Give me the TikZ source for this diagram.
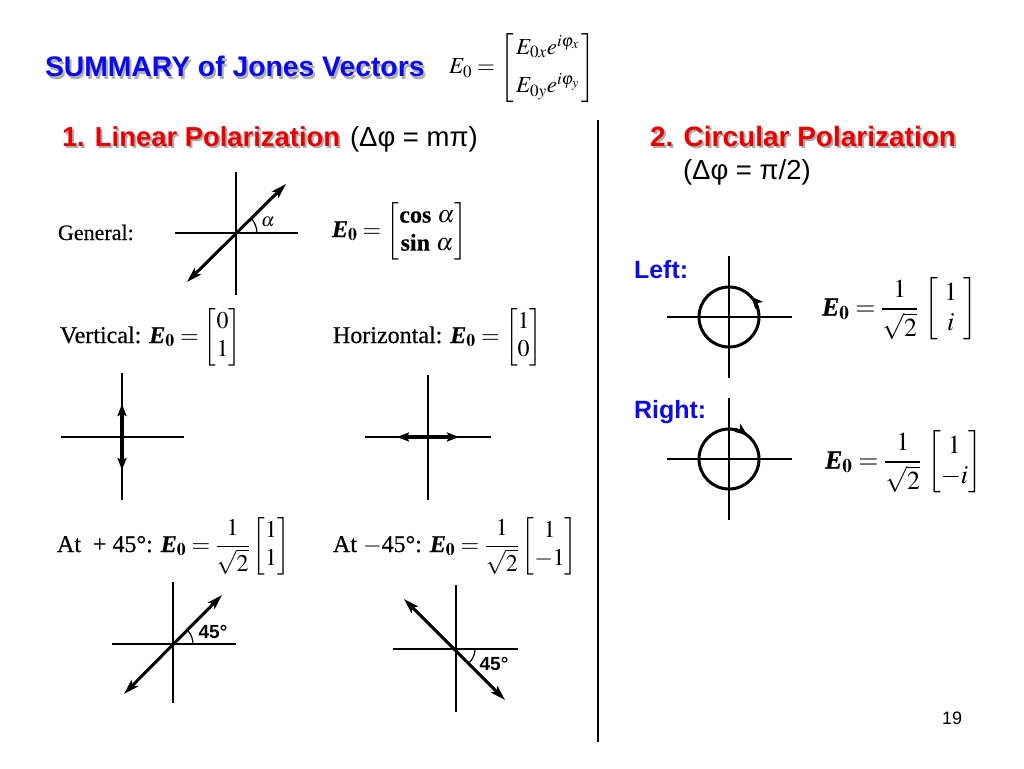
\documentclass[tikz,border=0pt]{standalone}
\usepackage{amsmath}
\usepackage{mathptmx}
\usepackage{fontspec}
\setmainfont{Liberation Serif}
\setsansfont{Liberation Sans}
\newfontfamily\scanfont{Liberation Serif}[FakeBold=0.5]
\usetikzlibrary{arrows.meta}
\definecolor{tblue}{RGB}{10,10,235}
\definecolor{tred}{RGB}{235,0,0}
\definecolor{shad}{RGB}{175,175,175}
\newcommand{\Ezero}{\text{\bfseries\itshape E}_{\mathbf{0}}}
\newcommand{\shd}[1]{\rlap{\hspace{2pt}\raisebox{-2pt}{\color{shad}#1}}#1}
\begin{document}
\begin{tikzpicture}[x=1pt,y=-1pt,
  txt/.style={inner sep=0pt, outer sep=0pt},
  ttl/.style={txt, font=\sffamily\bfseries\fontsize{28.3}{32}\selectfont},
  hd/.style={txt, font=\sffamily\bfseries\fontsize{28}{32}\selectfont},
  subt/.style={txt, font=\sffamily\fontsize{27.5}{32}\selectfont},
  tb/.style={txt, font=\scanfont\fontsize{22}{26}\selectfont},
  tbl/.style={txt, font=\scanfont\fontsize{24}{28}\selectfont},
  tbr/.style={txt, font=\scanfont\fontsize{26}{30}\selectfont},
  side/.style={txt, font=\sffamily\bfseries\fontsize{25}{30}\selectfont, text=tblue},
  axis/.style={line width=2.3pt},
  vec/.style={line width=3pt, {Stealth[length=15pt,width=9pt,inset=3pt]}-{Stealth[length=15pt,width=9pt,inset=3pt]}},
  vecs/.style={line width=3.8pt, {Stealth[length=12pt,width=9pt,inset=2pt]}-{Stealth[length=12pt,width=9pt,inset=2pt]}},
  ring/.style={line width=3pt},
  ang/.style={line width=1.2pt},
  lab/.style={txt, font=\sffamily\bfseries\fontsize{19}{21}\selectfont},
]
\fill[white] (0,0) rectangle (1024,768);
\useasboundingbox (0,0) rectangle (1024,768);

% title
\node[ttl, text=tblue, anchor=base west] (title) at (45,77) {\shd{SUMMARY of Jones Vectors}};
\node[txt, font=\fontsize{23}{27}\selectfont, anchor=west] (jones) at (449,68)
  {$E_0 = \left[\begin{array}{@{\,}c@{\,}} E_{0x}e^{i\varphi_x}\\[11pt] E_{0y}e^{i\varphi_y}\end{array}\right]$};

% headings
\node[hd, text=tred, anchor=base west, font=\sffamily\bfseries\fontsize{27.4}{32}\selectfont] (h1) at (62,146) {\shd{1. Linear Polarization}};
\node[subt, anchor=base west] (h1b) at (350,146) {(Δφ = mπ)};
\node[hd, text=tred, anchor=base west] (h2) at (650,146) {\shd{2. Circular Polarization}};
\node[subt, anchor=base west] (h2b) at (683,179) {(Δφ = π/2)};

% separator
\coordinate (septop) at (598,120);
\coordinate (sepbot) at (598,742);
\draw[line width=1.3pt] (septop) -- (sepbot);

% general
\node[tb, anchor=base west] (gen) at (58,240) {General:};
\draw[axis] (236,172) -- (236,295);
\draw[axis] (175,233) -- (298,233);
\draw[vec] (187,282) -- (286,184);
\draw[ang] (257,233) arc[start angle=0,end angle=-45,radius=21];
\node[txt, font=\fontsize{19}{21}\selectfont] (alpha) at (268,222) {$\boldsymbol{\alpha}$};
\node[tbl, anchor=west] (genm) at (332,231) {$\Ezero = \begin{bmatrix}\text{\bfseries cos}\ \boldsymbol{\alpha}\\ \text{\bfseries sin}\ \boldsymbol{\alpha}\end{bmatrix}$};

% vertical / horizontal
\node[tbl, anchor=west] (vert) at (60,337) {Vertical: $\Ezero = \begin{bmatrix}0\\1\end{bmatrix}$};
\node[tbl, anchor=west] (horz) at (333,337) {Horizontal: $\Ezero = \begin{bmatrix}1\\0\end{bmatrix}$};

\draw[axis] (122,373) -- (122,500);
\draw[axis] (61,437) -- (184,437);
\draw[vecs] (122,470) -- (122,404);

\draw[axis] (428,375) -- (428,500);
\draw[axis] (365,437) -- (491,437);
\draw[vecs] (397,437) -- (459,437);

% +-45
\node[tbl, anchor=west] (p45) at (57,546) {At\ \ +\ 45°: $\Ezero = \dfrac{1}{\sqrt{2}}\begin{bmatrix}1\\1\end{bmatrix}$};
\node[tbl, anchor=west] (m45) at (333,546) {At $-$45°: $\Ezero = \dfrac{1}{\sqrt{2}}\begin{bmatrix}1\\-1\end{bmatrix}$};

\draw[axis] (173,582) -- (173,703);
\draw[axis] (112,644) -- (236,644);
\draw[vec] (124,694) -- (222,595);
\draw[ang] (193,644) arc[start angle=0,end angle=-45,radius=20];
\node[lab] (lp45) at (213,632) {45°};

\draw[axis] (456,585) -- (456,712);
\draw[axis] (393,649) -- (518,649);
\draw[vec] (404,599) -- (505,700);
\draw[ang] (475,649) arc[start angle=0,end angle=45,radius=19];
\node[lab] (lm45) at (494,664) {45°};

% circular
\node[side, anchor=base west] (left) at (634,278) {Left:};
\draw[axis] (729,256) -- (729,378);
\draw[axis] (667,317) -- (792,317);
\draw[ring] (729,317) circle[radius=30];
\draw[ring, -{Stealth[length=12pt,width=10pt,inset=3pt]}] (729,317) ++(-18:30) arc[start angle=-18,end angle=-43,radius=30];
\node[tbr, anchor=west] (lefte) at (822,309) {$\Ezero = \dfrac{1}{\sqrt{2}}\,\begin{bmatrix}\ 1\ \\ i\end{bmatrix}$};

\node[side, anchor=base west] (right) at (634,418) {Right:};
\draw[axis] (729,398) -- (729,520);
\draw[axis] (667,459) -- (792,459);
\draw[ring] (729,459) circle[radius=30];
\draw[ring, -{Stealth[length=12pt,width=10pt,inset=3pt]}] (729,459) ++(-80:30) arc[start angle=-80,end angle=-53,radius=30];
\node[tbr, anchor=west] (righte) at (825,462) {$\Ezero = \dfrac{1}{\sqrt{2}}\,\begin{bmatrix}1\\ -i\end{bmatrix}$};

\node[txt, font=\sffamily\fontsize{18}{20}\selectfont, anchor=base west] (pg) at (942,724) {19};
\end{tikzpicture}
\end{document}
